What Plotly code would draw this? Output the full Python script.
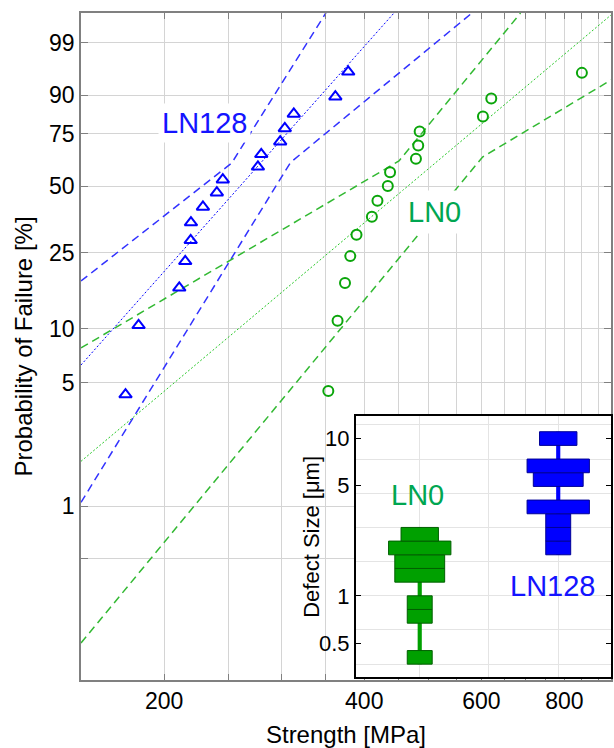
import numpy as np
import plotly.graph_objects as go

# ---------------- data ----------------
ln128_strength = [175.0, 183.1, 210.8, 215.2, 219.3, 219.5, 228.8, 240.1, 245.1,
                  276.8, 280.0, 299.0, 303.8, 313.4, 361.9, 378.4]
ln128_prob = [4.3, 10.4, 16.5, 22.6, 28.7, 34.8, 40.9, 47.0, 53.0,
              59.1, 65.2, 71.3, 77.4, 83.5, 89.6, 95.7]
ln0_strength = [353.2, 364.7, 374.2, 381.1, 389.4, 410.7, 418.7, 434.0, 437.4,
                478.4, 482.2, 484.6, 603.3, 621.0, 849.9]
ln0_prob = [4.5, 11.0, 17.5, 24.0, 30.5, 37.0, 43.5, 50.0, 56.5,
            63.0, 69.5, 76.0, 82.5, 89.0, 95.5]

# Weibull fit lines (dotted) and confidence bounds (dashed)
ln128_fit_strength = [150.0, 443.4]
ln128_fit_prob = [6.29, 99.894]
ln128_upper_strength = [150.0, 252.8, 350.4]
ln128_upper_prob = [17.92, 60.97, 99.897]
ln128_lower_strength = [150.0, 309.9, 580.8]
ln128_lower_prob = [1.05, 61.27, 99.894]
ln0_fit_strength = [150.0, 940.0]
ln0_fit_prob = [1.80, 99.873]
ln0_upper_strength = [150.0, 451.1, 687.2]
ln0_upper_prob = [7.82, 61.95, 99.894]
ln0_lower_strength = [150.0, 602.6, 940.0]
ln0_lower_prob = [0.164, 63.9, 94.05]

x_tick_vals = [200, 250, 300, 350, 400, 450, 500, 550, 600, 650, 700, 750, 800, 850, 900]
x_tick_text = ['200', '', '', '', '400', '', '', '', '600', '', '', '', '800', '', '']
y_tick_prob = [0.5, 1, 5, 10, 25, 50, 75, 90, 99]
y_tick_text = ['', '1', '5', '10', '25', '50', '75', '90', '99']

# inset: defect size histograms (bin edges in µm, counts per bin)
ln0_bin_lo = [0.368, 0.670, 0.819, 1.221, 1.492, 1.822, 2.226]
ln0_bin_hi = [0.449, 0.819, 1.000, 1.492, 1.822, 2.226, 2.718]
ln0_bin_count = [1, 1, 1, 3, 3, 4, 2]
ln128_bin_lo = [1.822, 2.226, 2.718, 3.320, 4.953, 6.050, 9.025]
ln128_bin_hi = [2.226, 2.718, 3.320, 4.055, 6.050, 7.389, 11.023]
ln128_bin_count = [1, 1, 1, 4, 3, 4, 2]
inset_groups = ['LN0', 'LN128']
inset_tick_vals = [0.5, 1, 5, 10]
inset_tick_text = ['0.5', '1', '5', '10']
inset_grid_vals = [0.368, 0.607, 1.0, 1.649, 2.718, 4.482, 7.389, 12.18]


def weibull(p):
    p = np.asarray(p, dtype=float) / 100.0
    return np.log(-np.log(1.0 - p))


BLUE = 'rgb(0,0,255)'
BLUE_DASH = 'rgb(50,50,255)'
GREEN = 'rgb(10,165,10)'
GREEN_DASH = 'rgb(50,185,50)'
GREEN_DOT = 'rgb(40,200,40)'
FONT = 'Liberation Sans, Arial, sans-serif'

fig = go.Figure()

# dashed confidence bounds
for xs, ps, col in [(ln128_upper_strength, ln128_upper_prob, BLUE_DASH),
                    (ln128_lower_strength, ln128_lower_prob, BLUE_DASH),
                    (ln0_upper_strength, ln0_upper_prob, GREEN_DASH),
                    (ln0_lower_strength, ln0_lower_prob, GREEN_DASH)]:
    fig.add_trace(go.Scatter(x=xs, y=weibull(ps), mode='lines',
                             line=dict(color=col, width=1.5, dash='8px,5px'),
                             hoverinfo='skip'))
# dotted fits
for xs, ps, col in [(ln128_fit_strength, ln128_fit_prob, BLUE),
                    (ln0_fit_strength, ln0_fit_prob, GREEN_DOT)]:
    fig.add_trace(go.Scatter(x=xs, y=weibull(ps), mode='lines',
                             line=dict(color=col, width=1, dash='2px,2px'),
                             hoverinfo='skip'))

# data points
fig.add_trace(go.Scatter(x=ln128_strength, y=weibull(ln128_prob), mode='markers', name='LN128',
                         marker=dict(symbol='triangle-up-open', size=11, color=BLUE,
                                     line=dict(width=2, color=BLUE))))
fig.add_trace(go.Scatter(x=ln0_strength, y=weibull(ln0_prob), mode='markers', name='LN0',
                         marker=dict(symbol='circle-open', size=10, color=GREEN,
                                     line=dict(width=2, color=GREEN))))

# ---------------- inset ----------------
UNIT = 0.09
inset_sets = [
    (1, ln0_bin_lo, ln0_bin_hi, ln0_bin_count, 'rgb(0,160,0)', 'rgb(0,95,0)'),
    (2, ln128_bin_lo, ln128_bin_hi, ln128_bin_count, 'rgb(0,0,255)', 'rgb(0,0,150)'),
]
for pos, lo, hi, cnt, col, edge in inset_sets:
    lo = np.array(lo)
    hi = np.array(hi)
    cnt = np.array(cnt)
    # stem from smallest to largest defect
    fig.add_trace(go.Bar(x=[pos], base=[lo.min()], y=[hi.max() - lo.min()], width=[0.03],
                         marker=dict(color=col, line=dict(width=0)),
                         xaxis='x2', yaxis='y2', hoverinfo='skip'))
    fig.add_trace(go.Bar(x=[pos] * len(lo), base=lo, y=hi - lo, width=UNIT * (cnt + 1),
                         marker=dict(color=col, line=dict(color=edge, width=1)),
                         xaxis='x2', yaxis='y2'))


def label(text, x, y, size, color, **kw):
    return dict(text=text, xref='paper', yref='paper', x=x, y=y,
                xanchor='center', yanchor='middle', showarrow=False,
                font=dict(size=size, color=color), **kw)


fig.update_layout(
    width=614, height=748,
    margin=dict(l=81, r=1, t=13, b=68),
    paper_bgcolor='white', plot_bgcolor='white',
    showlegend=False, barmode='overlay',
    font=dict(family=FONT, size=23, color='black'),
    xaxis=dict(type='log', range=[np.log10(150), np.log10(940)],
               tickmode='array', tickvals=x_tick_vals, ticktext=x_tick_text,
               ticks='inside', ticklen=6, tickcolor='#808080', tickwidth=1,
               showline=True, linecolor='#808080', linewidth=1.5, mirror='allticks',
               showgrid=True, gridcolor='#d4d4d4', gridwidth=1, zeroline=False,
               tickfont=dict(size=23),
               title=dict(text='Strength [MPa]', font=dict(size=24), standoff=13)),
    yaxis=dict(range=[-6.902, 1.924],
               tickmode='array', tickvals=weibull(y_tick_prob), ticktext=y_tick_text,
               ticks='inside', ticklen=7, tickcolor='#808080', tickwidth=1,
               showline=True, linecolor='#808080', linewidth=1.5, mirror='allticks',
               showgrid=True, gridcolor='#d4d4d4', gridwidth=1, zeroline=False,
               tickfont=dict(size=23),
               title=dict(text='Probability of Failure [%]', font=dict(size=24), standoff=10)),
    xaxis2=dict(domain=[0.5188, 1.0], anchor='y2', range=[0.5396, 2.381],
                showticklabels=False, ticks='', tickmode='linear', tick0=0, dtick=0.5,
                showgrid=True, gridcolor='#e4e4e4', zeroline=False,
                showline=True, linecolor='black', linewidth=2, mirror=True),
    yaxis2=dict(domain=[0.0045, 0.3958], anchor='x2', type='log',
                range=[np.log10(0.305), np.log10(13.87)],
                tickmode='array', tickvals=inset_tick_vals, ticktext=inset_tick_text,
                ticks='inside', ticklen=5, tickcolor='black', tickwidth=1,
                showgrid=False, zeroline=False,
                minor=dict(tickmode='array', tickvals=inset_grid_vals, showgrid=True,
                           gridcolor='#e4e4e4', ticks=''),
                showline=True, linecolor='black', linewidth=2, mirror='ticks',
                tickfont=dict(size=22)),
    annotations=[
        label('LN128', 0.2321, 0.8358, 29, 'rgb(20,20,255)', bgcolor='white', borderpad=3),
        label('LN0', 0.6669, 0.7013, 29, 'rgb(0,166,81)', bgcolor='white', borderpad=5),
        label('LN0', 0.6353, 0.2774, 29, 'rgb(0,166,81)'),
        label('LN128', 0.8895, 0.1414, 29, 'rgb(20,20,255)'),
        label('Defect Size [μm]', 0.4355, 0.2144, 22, 'black', textangle=-90),
    ],
)

fig.write_html('out.html', config={'displayModeBar': False})
